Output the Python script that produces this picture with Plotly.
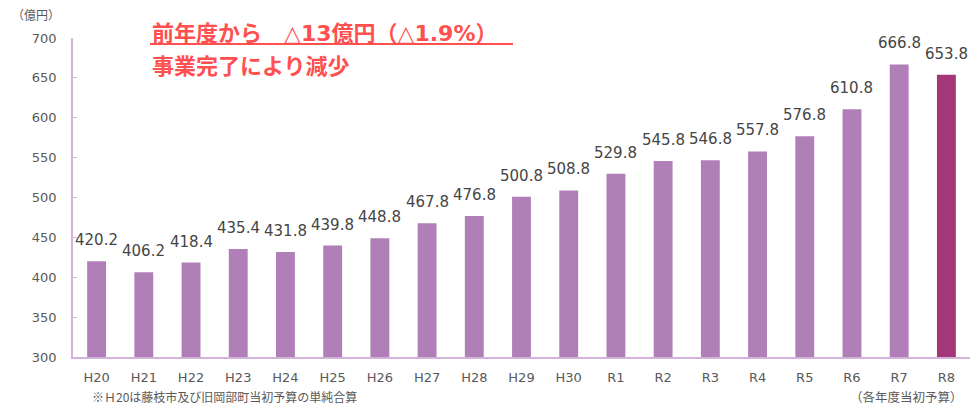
import plotly.graph_objects as go

categories = ["H20","H21","H22","H23","H24","H25","H26","H27","H28","H29","H30",
              "R1","R2","R3","R4","R5","R6","R7","R8"]
values = [420.2,406.2,418.4,435.4,431.8,439.8,448.8,467.8,476.8,500.8,508.8,
          529.8,545.8,546.8,557.8,576.8,610.8,666.8,653.8]
y_ticks = [300,350,400,450,500,550,600,650,700]

colors = ["#B07FB8"]*(len(values)-1) + ["#A3377A"]
num_font = "DejaVu Sans, Verdana, sans-serif"
jp_font = "Noto Sans CJK JP, sans-serif"
title_font = "DejaVu Sans, Noto Sans CJK JP, sans-serif"

W, H = 976, 406
ML, MR, MT, MB = 73, 6, 38, 49
PW, PH = W - ML - MR, H - MT - MB

fig = go.Figure(go.Bar(
    x=categories, y=values, marker=dict(color=colors, line=dict(width=0)),
    width=0.4, hoverinfo="x+y",
))

for c, v in zip(categories, values):
    fig.add_annotation(x=c, y=v, xref="x", yref="y", text=f"{v:.1f}",
                       showarrow=False, yanchor="middle", yshift=21,
                       font=dict(family=num_font, size=15, color="#454545"))

fig.update_layout(
    width=W, height=H, margin=dict(l=ML, r=MR, t=MT, b=MB),
    plot_bgcolor="white", paper_bgcolor="white", showlegend=False,
    xaxis=dict(showline=True, linecolor="#D3B3DA", linewidth=1.5, ticks="",
               ticklabelstandoff=8,
               tickfont=dict(family=num_font, size=13, color="#595959")),
    yaxis=dict(range=[300,700], tickvals=y_ticks, showgrid=False, showline=True,
               linecolor="#D3B3DA", linewidth=1.5, ticks="inside", ticklen=4,
               tickcolor="#D3B3DA", ticklabelstandoff=12,
               tickfont=dict(family=num_font, size=13, color="#595959")),
)

red = "#FF4F4F"
ann = [
    dict(x=10, y=15, text="（億円）", size=12, color="#595959", anchor="left", bold=False, fam=jp_font),
    dict(x=150, y=33, text="前年度から　△13億円（△1.9%）", size=22, color=red, anchor="left", bold=True, fam=title_font),
    dict(x=150, y=66, text="事業完了により減少", size=22, color=red, anchor="left", bold=True, fam=title_font),
    dict(x=90, y=396, text="※Ｈ20は藤枝市及び旧岡部町当初予算の単純合算", size=12, color="#595959", anchor="left", bold=False, fam=jp_font),
    dict(x=965, y=396, text="（各年度当初予算）", size=12.5, color="#595959", anchor="right", bold=False, fam=jp_font),
]
for a in ann:
    t = f"<b>{a['text']}</b>" if a["bold"] else a["text"]
    fig.add_annotation(x=(a["x"]-ML)/PW, y=(H-MB-a["y"])/PH,
                       xref="paper", yref="paper", text=t, showarrow=False,
                       xanchor=a["anchor"], yanchor="middle",
                       font=dict(family=a["fam"], size=a["size"], color=a["color"]))
fig.add_shape(type="line", xref="paper", yref="paper",
              x0=(150-ML)/PW, x1=(513-ML)/PW,
              y0=(H-MB-44)/PH, y1=(H-MB-44)/PH,
              line=dict(color=red, width=2))

fig.write_html("out.html", config={"displayModeBar": False},
               post_script="document.body.style.margin='0';")
